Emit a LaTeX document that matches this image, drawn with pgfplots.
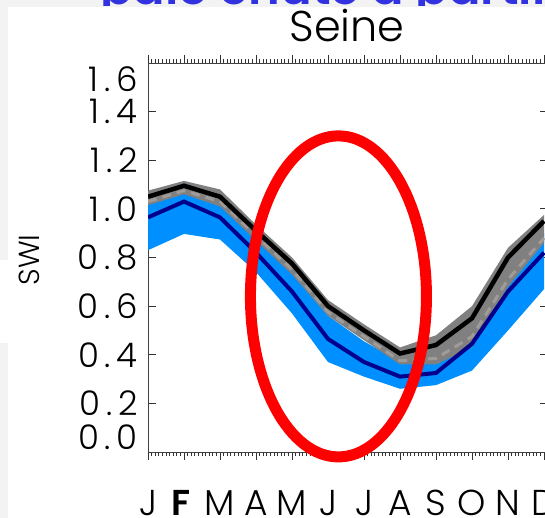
\documentclass[border=0pt]{standalone}
\usepackage{pgfplots}
\pgfplotsset{compat=1.18}
\usepgfplotslibrary{fillbetween}
\usepackage{fontspec}
\setmainfont{Poppins}[UprightFont=* Light, BoldFont=* SemiBold]
\newfontfamily\tickfont{Poppins}[UprightFont=* Light, BoldFont=* SemiBold, LetterSpace=17]
\definecolor{bandblue}{RGB}{0,143,255}
\definecolor{navyline}{RGB}{0,0,140}
\definecolor{bandgray}{RGB}{128,128,128}
\definecolor{dashgray}{RGB}{160,155,150}
\definecolor{slidebg}{RGB}{243,243,243}
\definecolor{headblue}{RGB}{50,50,225}
\begin{document}
\begin{tikzpicture}[x=1pt,y=1pt]
\fill[slidebg] (0,511) rectangle (545,518);
\fill[slidebg] (0,258) rectangle (8,518);
\fill[slidebg] (0,0) rectangle (8,175);
\begin{scope}
\clip (0,512) rectangle (545,520);
\node[anchor=base west, inner sep=0pt, text=headblue, font=\fontsize{48}{54}\selectfont\bfseries] at (100,513.5) {pale chute à partir};
\end{scope}
\node[anchor=base, inner sep=0pt, font=\fontsize{43}{48}\selectfont] at (347,476) {Seine};
\node[rotate=90, inner sep=0pt, font=\fontsize{29}{34}\selectfont] at (29,258) {SWI};
\begin{axis}[
  at={(148pt,66pt)}, anchor=south west,
  scale only axis, width=399.6pt, height=389pt,
  xmin=0, xmax=11.1, ymin=0, ymax=1.6,
  axis line style={draw=black!75, line width=0.9pt},
  xtick={0,...,11},
  xticklabels={J,\textbf{F},M,A,M,J,J,A,S,O,N,D},
  minor x tick num=9,
  xtick align=outside,
  ytick align=inside,
  ytick={0.2,0.4,0.6,0.8,1.0,1.2,1.4},
  yticklabels={0.2,0.4,0.6,0.8,1.0,1.2,1.4},
  extra y ticks={0.0615,1.534},
  extra y tick labels={0.0,1.6},
  extra y tick style={major tick length=0pt},
  major tick length=8pt, minor tick length=4pt,
  tick style={draw=black!80, line width=0.9pt},
  minor tick style={line width=0.7pt},
  ticklabel style={font=\tickfont\fontsize{34}{38}\selectfont},
  xticklabel style={font=\tickfont\fontsize{36}{40}\selectfont, anchor=north, inner sep=0pt, yshift=-30pt},
  yticklabel style={anchor=east, inner sep=0pt, xshift=-10pt},
  clip=true,
]
% blue ensemble envelope
\addplot[name path=bup, draw=none] coordinates {(0,1.03) (1,1.08) (2,1.03) (3,0.89) (4,0.74) (5,0.56) (6,0.455) (7,0.37) (8,0.39) (9,0.51) (10,0.75) (11,0.90)};
\addplot[name path=blo, draw=none] coordinates {(0,0.83) (1,0.897) (2,0.874) (3,0.74) (4,0.57) (5,0.37) (6,0.31) (7,0.26) (8,0.275) (9,0.335) (10,0.50) (11,0.67)};
\addplot[bandblue] fill between[of=bup and blo];
% gray envelope
\addplot[name path=gup, draw=none] coordinates {(0,1.075) (1,1.115) (2,1.08) (3,0.935) (4,0.80) (5,0.625) (6,0.525) (7,0.43) (8,0.48) (9,0.60) (10,0.84) (11,0.975)};
\addplot[name path=glo, draw=none] coordinates {(0,1.015) (1,1.06) (2,1.01) (3,0.87) (4,0.73) (5,0.56) (6,0.46) (7,0.36) (8,0.36) (9,0.43) (10,0.68) (11,0.86)};
\addplot[bandgray] fill between[of=gup and glo];
% gray dashed
\addplot[dashgray, line width=3pt, dash pattern=on 9pt off 6pt] coordinates {(0,1.03) (1,1.075) (2,1.03) (3,0.89) (4,0.75) (5,0.575) (6,0.475) (7,0.375) (8,0.385) (9,0.475) (10,0.71) (11,0.88)};
% dark blue mean
\addplot[navyline, line width=4pt] coordinates {(0,0.965) (1,1.03) (2,0.965) (3,0.82) (4,0.66) (5,0.465) (6,0.37) (7,0.31) (8,0.325) (9,0.445) (10,0.66) (11,0.82)};
% black reference
\addplot[black, line width=4.5pt] coordinates {(0,1.05) (1,1.095) (2,1.05) (3,0.91) (4,0.775) (5,0.60) (6,0.50) (7,0.405) (8,0.44) (9,0.55) (10,0.80) (11,0.95)};
\coordinate (ec) at (axis cs:5.29,0.64);
\end{axis}
\draw[red, line width=11pt] (ec) ellipse [x radius=88pt, y radius=160.5pt];
\pgfresetboundingbox
\path[use as bounding box] (0,0) rectangle (545,518);
\end{tikzpicture}
\end{document}
